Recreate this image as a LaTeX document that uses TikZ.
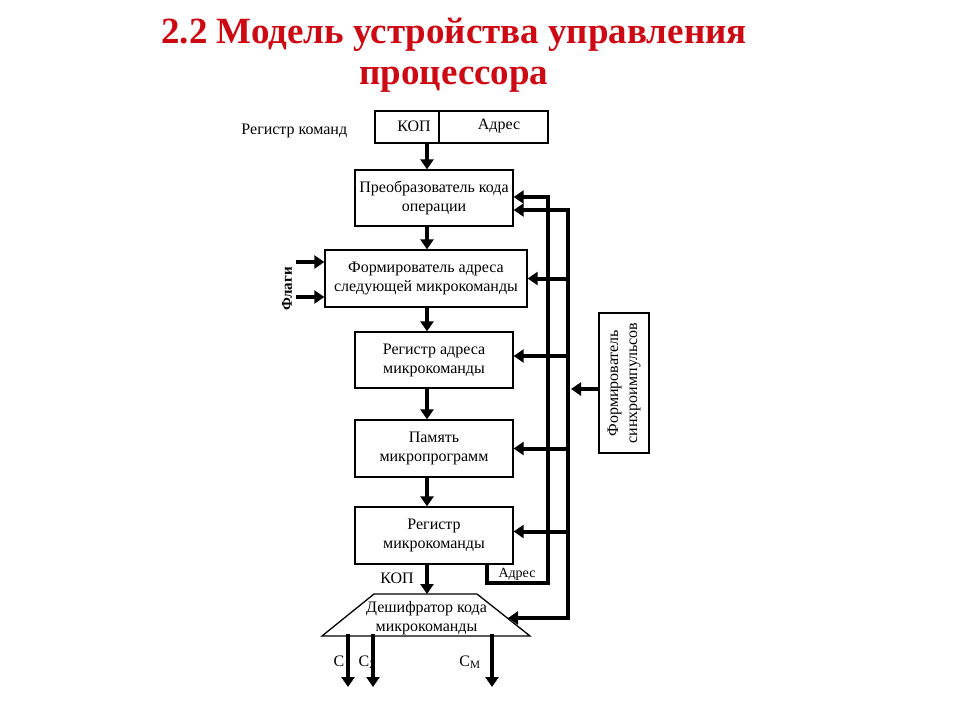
\documentclass[tikz,border=0pt]{standalone}
\usepackage{fontspec}
\setmainfont{Liberation Serif}
\usepackage{xcolor}
\usetikzlibrary{arrows.meta,positioning}
\definecolor{titlered}{RGB}{205,10,20}
\tikzset{
blk/.style={draw,line width=1.3pt,align=center,inner sep=0pt,font=\fontsize{16}{19}\selectfont},
lbl/.style={inner sep=0pt,font=\fontsize{16}{19}\selectfont},
arr/.style={line width=4pt,line cap=rect,-{Triangle[length=10pt,width=13pt]}}
}
\begin{document}
\begin{tikzpicture}[x=1pt,y=-1pt]
\useasboundingbox (0,0) rectangle (960,720);
\node[anchor=base,align=center,text=titlered,font=\fontsize{37}{41}\selectfont\bfseries] (title) at (454,84) {2.2 Модель устройства управления\\процессора};
\node[blk,minimum width=173pt,minimum height=32pt] (rk) at (461.5,127) {};
\coordinate (dv) at (439,0);
\draw[line width=1.3pt] (rk.north -| dv) -- (rk.south -| dv);
\node[lbl] (kop) at (414,126) {КОП};
\node[lbl] (adr) at (499,126) {Адрес};
\node[lbl,left=27pt of rk,yshift=-4pt] (rklbl) {Регистр команд};
\node[blk,minimum width=158pt,minimum height=56pt] (pk) at (434,198) {Преобразователь кода\\операции};
\node[blk,minimum width=202pt,minimum height=57pt] (fa) at (426,278.5) {Формирователь адреса\\следующей микрокоманды};
\node[blk,minimum width=158pt,minimum height=56pt] (ra) at (434,360) {Регистр адреса\\микрокоманды};
\node[blk,minimum width=158pt,minimum height=57pt] (pm) at (434,448.5) {Память\\микропрограмм};
\node[blk,minimum width=158pt,minimum height=57pt] (rm) at (434,535.5) {Регистр\\микрокоманды};
\coordinate (dctl) at (374,594);
\coordinate (dctr) at (477,594);
\coordinate (dcbr) at (530,636);
\coordinate (dcbl) at (322,636);
\draw[line width=1.3pt] (dctl) -- (dctr) -- (dcbr) -- (dcbl) -- cycle;
\node[lbl,align=center] (dc) at (426.5,618) {Дешифратор кода\\микрокоманды};
\node[blk,rotate=90,minimum width=140pt,minimum height=50pt] (sf) at (624,383) {Формирователь\\синхроимпульсов};
\node[inner sep=0pt,rotate=90,font=\fontsize{15}{17}\selectfont\bfseries] (fl) at (287,289) {Флаги};
\node[lbl] (kopb) at (397,578) {КОП};
\node[inner sep=0pt,font=\fontsize{14}{16}\selectfont] (adrb) at (517,574) {Адрес};
\node[lbl] (lc1) at (342,662) {С\textsubscript{1}};
\node[lbl] (lc2) at (367,662) {С\textsubscript{2}};
\node[lbl] (lcm) at (470,662) {С\textsubscript{М}};
\coordinate (ax) at (427,0);
\coordinate (dctop) at (427,594);
\draw[arr] (rk.south -| ax) -- (pk.north -| ax);
\draw[arr] (pk.south -| ax) -- (fa.north -| ax);
\draw[arr] (fa.south -| ax) -- (ra.north -| ax);
\draw[arr] (ra.south -| ax) -- (pm.north -| ax);
\draw[arr] (pm.south -| ax) -- (rm.north -| ax);
\draw[arr] (rm.south -| ax) -- (dctop);
\coordinate (f1) at (298,262);
\coordinate (f2) at (298,297);
\draw[arr] (f1) -- (f1 -| fa.west);
\draw[arr] (f2) -- (f2 -| fa.west);
\coordinate (ad) at (487,0);
\coordinate (b1) at (548,583);
\draw[arr] (rm.south -| ad) |- (b1) |- ([yshift=1pt]pk.east);
\coordinate (b2) at (568,0);
\coordinate (pkin) at ([yshift=-12pt]pk.east);
\coordinate (dcin) at (508,618);
\draw[arr] (pkin -| b2) |- (dcin);
\draw[arr] (pkin -| b2) -- (pkin);
\draw[arr] (fa.east -| b2) -- (fa.east);
\draw[arr] ([yshift=4pt]ra.east -| b2) -- ([yshift=4pt]ra.east);
\draw[arr] (pm.east -| b2) -- (pm.east);
\draw[arr] ([yshift=4pt]rm.east -| b2) -- ([yshift=4pt]rm.east);
\coordinate (sfin) at ([yshift=-6pt]sf.north);
\draw[arr] (sfin) -- ([xshift=3pt]sfin -| b2);
\coordinate (c1) at (348,687);
\coordinate (c2) at (373,687);
\coordinate (cm) at (492,687);
\draw[arr] (c1 |- dcbl) -- (c1);
\draw[arr] (c2 |- dcbl) -- (c2);
\draw[arr] (cm |- dcbl) -- (cm);
\end{tikzpicture}
\end{document}
